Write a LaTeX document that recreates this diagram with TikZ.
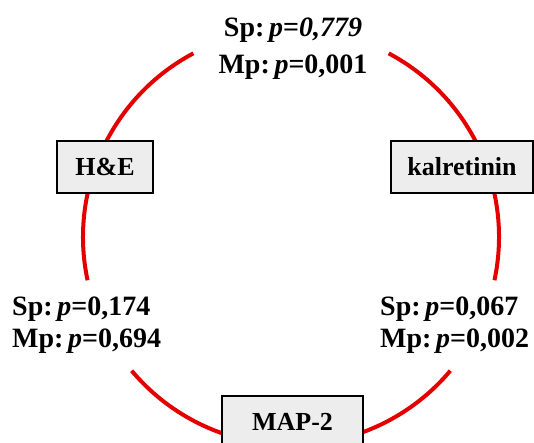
\documentclass[tikz,border=0pt]{standalone}
\usepackage{fontspec}
\setmainfont{Liberation Serif}
\begin{document}
\begin{tikzpicture}[x=1pt,y=1pt,
  ring/.style={draw=red!90!black, line width=4pt},
  stain/.style={draw=black, line width=1.4pt, fill=black!7, minimum height=52pt, inner sep=0pt, font=\bfseries\fontsize{26}{30}\selectfont},
  plabel/.style={inner sep=0pt, align=left, font=\bfseries\fontsize{28}{32}\selectfont}]
\useasboundingbox (0,0) rectangle (534,443);
\coordinate (O) at (291,206);
% red circle segments
\draw[ring] ([shift={(118:208)}]O) arc[start angle=118, end angle=192, radius=208];
\draw[ring] ([shift={(-12:208)}]O) arc[start angle=-12, end angle=62, radius=208];
\draw[ring] ([shift={(220:208)}]O) arc[start angle=220, end angle=320, radius=208];
% boxes
\node[stain, minimum width=96pt] (he) at (105,276) {H\&E};
\node[stain, minimum width=142pt] (kal) at (462,276) {kalretinin};
\node[stain, minimum width=141pt] (map) at (292.5,21) {MAP-2};
% labels
\node[plabel, align=center, anchor=north, font=\bfseries\fontsize{28}{37}\selectfont] (top) at (293,425) {Sp:\,\textit{p}=\textit{0,779}\\Mp:\,\textit{p}=0,001};
\node[plabel, anchor=north west] (left) at (12,146) {Sp:\,\textit{p}=0,174\\Mp:\,\textit{p}=0,694};
\node[plabel, anchor=north west] (right) at (380,146) {Sp:\,\textit{p}=0,067\\Mp:\,\textit{p}=0,002};
\end{tikzpicture}
\end{document}
